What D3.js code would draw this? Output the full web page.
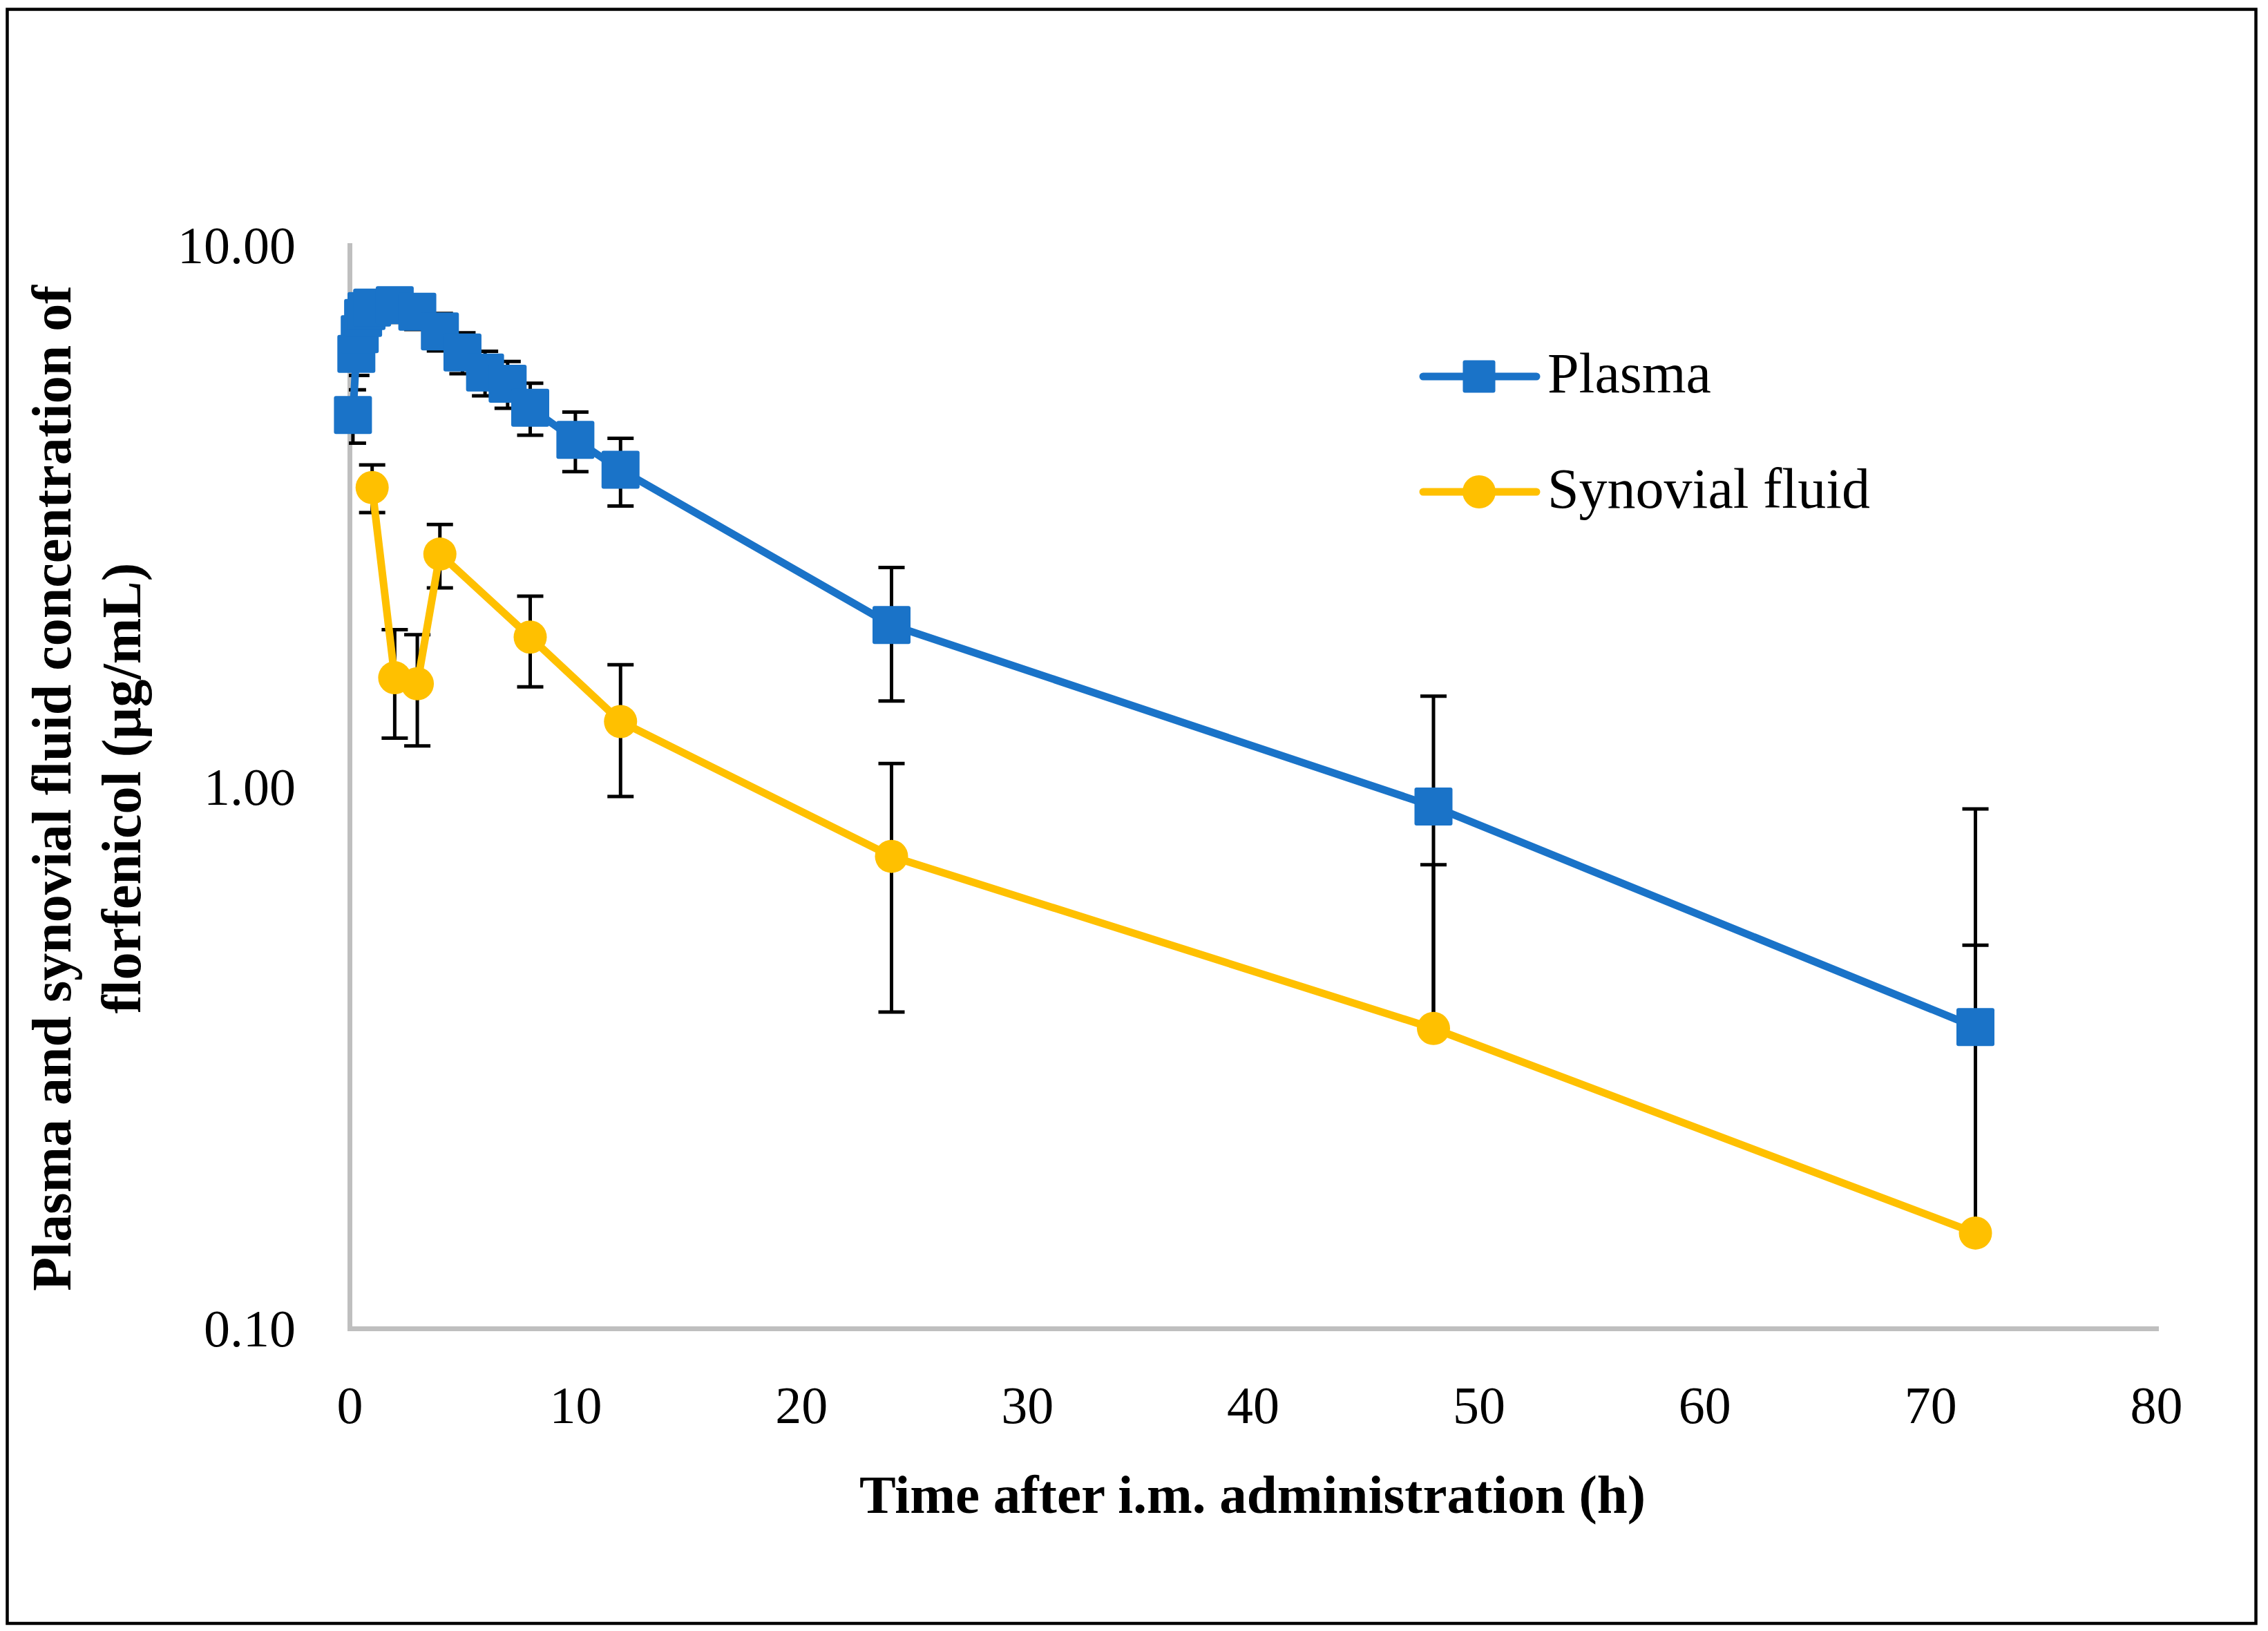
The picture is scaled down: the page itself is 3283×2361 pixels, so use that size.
<!DOCTYPE html>
<html>
<head>
<meta charset="utf-8">
<script src="https://cdn.jsdelivr.net/npm/d3@7/dist/d3.min.js"></script>
<style>
  body { margin: 0; background: #fff; }
  svg { display: block; }
</style>
</head>
<body>
<svg id="chart" width="3283" height="2361"></svg>
<script>
// plasma series (h, µg/mL, SD)
var plasmaTime = [0.15, 0.3, 0.45, 0.6, 0.75, 1, 2, 3, 4, 5, 6, 7, 8, 10, 12, 24, 48, 72];
var plasmaConc = [4.86, 6.30, 6.85, 7.34, 7.56, 7.67, 7.75, 7.54, 6.93, 6.34, 5.82, 5.55, 5.01, 4.37, 3.85, 1.99, 0.92, 0.36];
var plasmaSD   = [0.55, 0.55, 0.55, 0.55, 0.55, 0.55, 0.55, 0.55, 0.55, 0.55, 0.55, 0.55, 0.55, 0.55, 0.55, 0.55, 0.55, 0.55];

// synovial fluid series
var synTime = [1, 2, 3, 4, 8, 12, 24, 48, 72];
var synConc = [3.57, 1.59, 1.55, 2.69, 1.89, 1.32, 0.744, 0.358, 0.150];
var synSD   = [0.36, 0.36, 0.36, 0.36, 0.36, 0.36, 0.36, 0.36, 0.36];

var xTicks = [0, 10, 20, 30, 40, 50, 60, 70, 80];
var yTicks = [0.1, 1, 10];
var seriesNames = ['Plasma', 'Synovial fluid'];

var BLUE = '#1A73C8', GOLD = '#FFC000', GRAY = '#BFBFBF';
var FONT = '"Liberation Serif", "Times New Roman", serif';

var svg = d3.select('#chart');
var x = d3.scaleLinear().domain([0, 80]).range([506, 3121]);
var y = d3.scaleLog().domain([0.1, 10]).range([1923, 355]);

// outer frame
svg.append('rect')
	.attr('x', 10.5).attr('y', 13.5)
	.attr('width', 3255).attr('height', 2336.5)
	.attr('fill', 'none').attr('stroke', '#000').attr('stroke-width', 4.5);

// axes
var xAxis = svg.append('g')
	.attr('transform', 'translate(0,1923)')
	.call(d3.axisBottom(x).tickValues(xTicks).tickSize(0).tickPadding(0).tickFormat(d3.format('d')));
var yAxis = svg.append('g')
	.attr('transform', 'translate(506,0)')
	.call(d3.axisLeft(y).tickValues(yTicks).tickSize(0).tickPadding(0).tickFormat(d3.format('.2f')));

[xAxis, yAxis].forEach(function (g) {
	g.select('.domain').attr('stroke', GRAY).attr('stroke-width', 7).attr('stroke-linecap', 'square');
	g.selectAll('text').attr('font-family', FONT).attr('font-size', 76).attr('fill', '#000');
});
xAxis.selectAll('text').attr('y', 0).attr('dy', 0).attr('transform', 'translate(0,137)');
yAxis.selectAll('text').attr('x', -78).attr('dy', '0.33em').attr('text-anchor', 'end');

// error bars, clipped to plot area like the source
svg.append('clipPath').attr('id', 'plotclip')
	.append('rect').attr('x', 505).attr('y', 0).attr('width', 2700).attr('height', 2000);

var bars = svg.append('g').attr('clip-path', 'url(#plotclip)')
	.attr('stroke', '#000').attr('stroke-width', 5).attr('fill', 'none');

function errBars(times, vals, sds) {
	var cap = 19;
	times.forEach(function (t, i) {
		var cx = x(t), cy = y(vals[i]);
		var hi = vals[i] + sds[i], lo = vals[i] - sds[i];
		bars.append('line').attr('x1', cx).attr('x2', cx).attr('y1', cy).attr('y2', y(hi));
		bars.append('line').attr('x1', cx - cap).attr('x2', cx + cap).attr('y1', y(hi)).attr('y2', y(hi));
		// log axis: a negative lower end is not drawn
		if (lo > 0) {
			bars.append('line').attr('x1', cx).attr('x2', cx).attr('y1', cy).attr('y2', y(lo));
			bars.append('line').attr('x1', cx - cap).attr('x2', cx + cap).attr('y1', y(lo)).attr('y2', y(lo));
		}
	});
}
errBars(plasmaTime, plasmaConc, plasmaSD);
errBars(synTime, synConc, synSD);

var line = d3.line()
	.x(function (d) { return x(d[0]); })
	.y(function (d) { return y(d[1]); });

// plasma
var pData = plasmaTime.map(function (t, i) { return [t, plasmaConc[i]]; });
svg.append('path').datum(pData)
	.attr('d', line).attr('fill', 'none').attr('stroke', BLUE)
	.attr('stroke-width', 11).attr('stroke-linejoin', 'round').attr('stroke-linecap', 'round');
svg.append('g').selectAll('rect')
	.data(pData).enter().append('rect')
	.attr('x', function (d) { return x(d[0]) - 27.5; })
	.attr('y', function (d) { return y(d[1]) - 27.5; })
	.attr('width', 55).attr('height', 55).attr('rx', 3)
	.attr('fill', BLUE);

// synovial fluid
var sData = synTime.map(function (t, i) { return [t, synConc[i]]; });
svg.append('path').datum(sData)
	.attr('d', line).attr('fill', 'none').attr('stroke', GOLD)
	.attr('stroke-width', 11).attr('stroke-linejoin', 'round').attr('stroke-linecap', 'round');
svg.append('g').selectAll('circle')
	.data(sData).enter().append('circle')
	.attr('cx', function (d) { return x(d[0]); })
	.attr('cy', function (d) { return y(d[1]); })
	.attr('r', 24)
	.attr('fill', GOLD);

// legend
var legend = svg.append('g');
[[BLUE, 545], [GOLD, 712]].forEach(function (s, i) {
	var g = legend.append('g').attr('transform', 'translate(0,' + s[1] + ')');
	g.append('line').attr('x1', 2060).attr('x2', 2224).attr('y1', 0).attr('y2', 0)
		.attr('stroke', s[0]).attr('stroke-width', 11).attr('stroke-linecap', 'round');
	if (i === 0) {
		g.append('rect').attr('x', 2141 - 23.5).attr('y', -23.5).attr('width', 47).attr('height', 47)
			.attr('rx', 3).attr('fill', s[0]);
	} else {
		g.append('circle').attr('cx', 2141).attr('cy', 0).attr('r', 24).attr('fill', s[0]);
	}
	g.append('text').attr('x', 2240).attr('y', 23)
		.attr('font-family', FONT).attr('font-size', 82).text(seriesNames[i]);
});

// axis titles
svg.append('text')
	.attr('x', 1813).attr('y', 2190)
	.attr('text-anchor', 'middle')
	.attr('font-family', FONT).attr('font-weight', 'bold').attr('font-size', 79)
	.text('Time after i.m. administration (h)');

var yt = svg.append('text')
	.attr('transform', 'translate(102,1141) rotate(-90)')
	.attr('text-anchor', 'middle')
	.attr('font-family', FONT).attr('font-weight', 'bold').attr('font-size', 80);
yt.append('tspan').attr('x', 0).attr('y', 0).text('Plasma and synovial fluid concentration of');
yt.append('tspan').attr('x', 0).attr('y', 101).text('florfenicol (µg/mL)');
</script>
</body>
</html>
